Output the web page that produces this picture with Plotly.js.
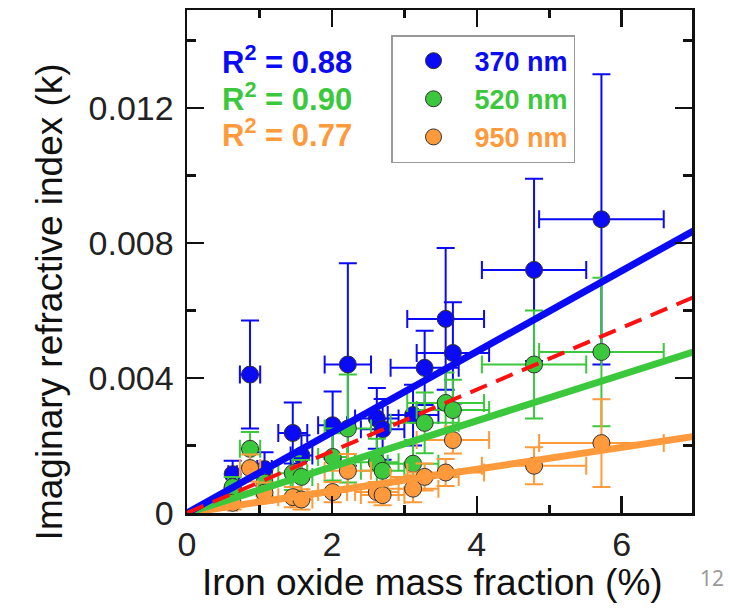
<!DOCTYPE html>
<html>
<head>
<meta charset="utf-8">
<script src="https://cdn.plot.ly/plotly-3.0.1.min.js"></script>
<style>html,body{margin:0;padding:0;background:#fff;}#chart{width:730px;height:610px;}</style>
</head>
<body>
<div id="chart"></div>
<script>
// Iron oxide mass fraction (%) for each sample, with x uncertainty
const ironFrac = [0.63, 0.87, 1.07, 1.46, 1.58, 2.01, 2.22, 2.62, 2.70, 3.12, 3.28, 3.57, 3.67, 4.79, 5.72];
const ironFracErr = [0.06, 0.14, 0.1, 0.2, 0.15, 0.2, 0.32, 0.3, 0.3, 0.35, 0.47, 0.53, 0.5, 0.72, 0.86];

// Imaginary refractive index k at each wavelength
const k370 = [0.00115, 0.0041, 0.0013, 0.00237, 0.0017, 0.0026, 0.0044, 0.0028, 0.00248, 0.0029, 0.0043, 0.00575, 0.00474, 0.0072, 0.0087];
const k370Err = [0.0004, 0.0016, 0.0005, 0.0009, 0.0006, 0.001, 0.003, 0.0009, 0.0009, 0.0009, 0.0011, 0.0021, 0.0015, 0.0027, 0.0043];
const k520 = [0.00077, 0.0019, 0.0009, 0.00118, 0.00107, 0.00166, 0.0025, 0.0015, 0.00125, 0.00146, 0.00267, 0.00326, 0.00305, 0.0044, 0.00477];
const k520Err = [0.0003, 0.0005, 0.0004, 0.0005, 0.0005, 0.0007, 0.0016, 0.0007, 0.0006, 0.0007, 0.0009, 0.0009, 0.0009, 0.0016, 0.0022];
const k950 = [0.0003, 0.00133, 0.0006, 0.00047, 0.0004, 0.00062, 0.00125, 0.00062, 0.00053, 0.00072, 0.00107, 0.0012, 0.00216, 0.0014, 0.00207];
const k950Err = [0.0002, 0.0004, 0.0003, 0.0003, 0.0003, 0.0003, 0.0005, 0.0003, 0.0003, 0.0004, 0.0004, 0.0004, 0.0004, 0.00055, 0.0013];

// Linear fits through origin (end points) and dashed reference line
const fitX = [0, 7];
const fit370 = [0, 0.00837];
const fit520 = [0, 0.00478];
const fit950 = [0, 0.00227];
const refLine = [0, 0.0064];

const seriesNames = ['370 nm', '520 nm', '950 nm'];
const r2Labels = ['0.88', '0.90', '0.77'];
const xTitle = 'Iron oxide mass fraction (%)';
const yTitle = 'Imaginary refractive index (k)';
const pageNumber = '12';

const cBlue = '#0a0af5', cGreen = '#3cc83c', cOrange = '#ff9a3c';

function pts(y, yerr, color, name) {
  return {
    type: 'scatter', mode: 'markers', x: ironFrac, y: y,
    name: '<span style="color:' + color + '">' + name + '</span>',
    marker: {color: color, size: 17, line: {color: '#333', width: 1}},
    error_x: {type: 'data', array: ironFracErr, visible: true, color: color, thickness: 2, width: 9},
    error_y: {type: 'data', array: yerr, visible: true, color: color, thickness: 2, width: 9}
  };
}
function fit(y, color, dash, w) {
  return {type: 'scatter', mode: 'lines', x: fitX, y: y, showlegend: false, hoverinfo: 'skip',
    line: {color: color, width: w, dash: dash || 'solid'}};
}

const data = [
  pts(k370, k370Err, cBlue, seriesNames[0]),
  pts(k520, k520Err, cGreen, seriesNames[1]),
  pts(k950, k950Err, cOrange, seriesNames[2]),
  fit(fit950, cOrange, null, 7),
  fit(fit520, cGreen, null, 7),
  fit(fit370, cBlue, null, 7),
  fit(refLine, '#ff1010', '18px,10px', 4)
];

const font = 'Liberation Sans, Arial, sans-serif';
const axisCommon = {
  showline: true, linecolor: '#111', linewidth: 2.5, mirror: 'allticks',
  ticks: 'inside', ticklen: 17, tickwidth: 2.5, tickcolor: '#111',
  showgrid: false, zeroline: false,
  tickfont: {family: font, size: 34, color: '#222'},
};

const layout = {
  width: 730, height: 610,
  margin: {l: 187, r: 38, t: 10, b: 97},
  paper_bgcolor: '#fff', plot_bgcolor: '#fff',
  showlegend: true,
  xaxis: Object.assign({}, axisCommon, {
    range: [0, 6.97], dtick: 2, tick0: 0,
    minor: {dtick: 1, ticks: 'inside', ticklen: 8, tickwidth: 2.5, tickcolor: '#111'}
  }),
  yaxis: Object.assign({}, axisCommon, {
    range: [0, 0.0149], dtick: 0.004, tick0: 0,
    minor: {dtick: 0.002, ticks: 'inside', ticklen: 9, tickwidth: 2.5, tickcolor: '#111'},
    ticklabelstandoff: 4
  }),
  legend: {
    x: 0.404, y: 0.95, xanchor: 'left', yanchor: 'top',
    bgcolor: '#fff', bordercolor: '#999', borderwidth: 1.5,
    font: {family: font, size: 27, weight: 700},
    itemwidth: 72, tracegroupgap: 0
  },
  annotations: [
    {xref: 'paper', yref: 'paper', x: 0.065, y: 0.90, xanchor: 'left', yanchor: 'middle', showarrow: false,
     text: 'R<sup>2</sup> = ' + r2Labels[0], font: {family: font, size: 31, weight: 700, color: cBlue}},
    {xref: 'paper', yref: 'paper', x: 0.065, y: 0.827, xanchor: 'left', yanchor: 'middle', showarrow: false,
     text: 'R<sup>2</sup> = ' + r2Labels[1], font: {family: font, size: 31, weight: 700, color: cGreen}},
    {xref: 'paper', yref: 'paper', x: 0.065, y: 0.755, xanchor: 'left', yanchor: 'middle', showarrow: false,
     text: 'R<sup>2</sup> = ' + r2Labels[2], font: {family: font, size: 31, weight: 700, color: cOrange}},
    {xref: 'paper', yref: 'paper', x: 0.487, y: -0.138, xanchor: 'center', yanchor: 'middle', showarrow: false,
     text: xTitle, font: {family: font, size: 37, color: '#111'}},
    {xref: 'paper', yref: 'paper', x: -0.272, y: 0.42, xanchor: 'center', yanchor: 'middle', showarrow: false,
     textangle: -90, text: yTitle, font: {family: font, size: 37, color: '#111'}},
    {xref: 'paper', yref: 'paper', x: 1.04, y: -0.13, xanchor: 'center', yanchor: 'middle', showarrow: false,
     text: pageNumber, font: {family: 'Noto Sans, sans-serif', size: 21, color: '#9a9a9a'}}
  ]
};

Plotly.newPlot('chart', data, layout, {staticPlot: true, displayModeBar: false});
</script>
</body>
</html>
